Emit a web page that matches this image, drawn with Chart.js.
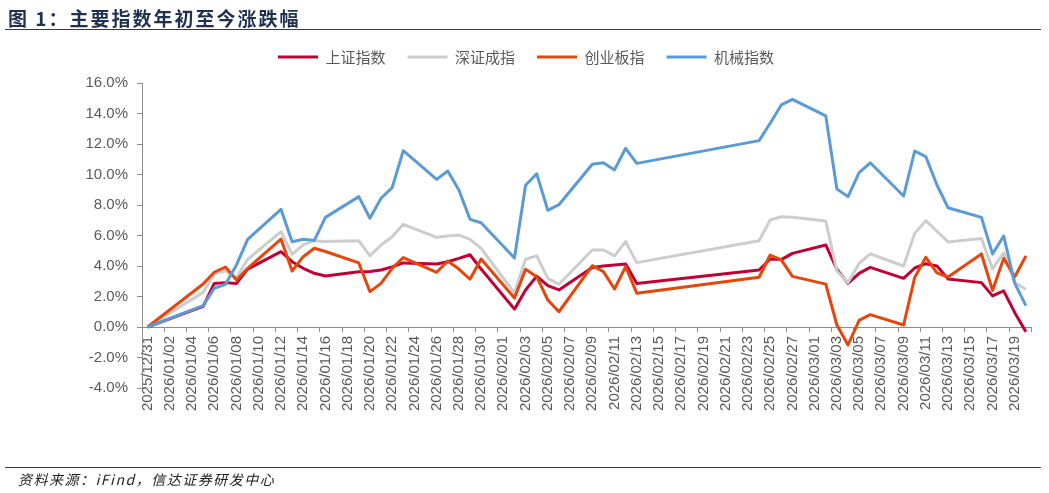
<!DOCTYPE html>
<html>
<head>
<meta charset="utf-8">
<script src="https://cdn.jsdelivr.net/npm/chart.js@4.4.1/dist/chart.umd.min.js"></script>
<style>
    html, body { margin: 0; padding: 0; background: #fff; }
    body { width: 1049px; height: 493px; position: relative; overflow: hidden; }
    #wrap { position: absolute; left: 0; top: 0; width: 1049px; height: 493px; }
    #title {
        position: absolute; left: 8px; top: 4px; line-height: 24px;
        font: bold 19px "Noto Sans CJK SC", sans-serif; color: #1f3050; letter-spacing: 2px;
    }
    .rule { position: absolute; left: 5px; width: 1036px; height: 1px; background: #3a3a3a; }
    #footer {
        position: absolute; left: 18px; top: 469px; line-height: 20px;
        font: italic 14px "Noto Sans CJK SC", serif; color: #222; letter-spacing: 1.5px;
    }
</style>
</head>
<body>
<div id="wrap"><canvas id="mainChart"></canvas></div>
<div id="title">图 1：主要指数年初至今涨跌幅</div>
<div class="rule" style="top:29px"></div>
<div class="rule" style="top:467px"></div>
<div id="footer">资料来源：iFind，信达证券研发中心</div>
<script>
// trading days shown in the chart
const tradeDays = [
    '2025/12/31',
    '2026/01/05', '2026/01/06', '2026/01/07', '2026/01/08', '2026/01/09',
    '2026/01/12', '2026/01/13', '2026/01/14', '2026/01/15', '2026/01/16',
    '2026/01/19', '2026/01/20', '2026/01/21', '2026/01/22', '2026/01/23',
    '2026/01/26', '2026/01/27', '2026/01/28', '2026/01/29', '2026/01/30',
    '2026/02/02', '2026/02/03', '2026/02/04', '2026/02/05', '2026/02/06',
    '2026/02/09', '2026/02/10', '2026/02/11', '2026/02/12', '2026/02/13',
    '2026/02/24', '2026/02/25', '2026/02/26', '2026/02/27',
    '2026/03/02', '2026/03/03', '2026/03/04', '2026/03/05', '2026/03/06',
    '2026/03/09', '2026/03/10', '2026/03/11', '2026/03/12', '2026/03/13',
    '2026/03/16', '2026/03/17', '2026/03/18', '2026/03/19', '2026/03/20'
];

const seriesNames = ['上证指数', '深证成指', '创业板指', '机械指数'];
const seriesColors = ['#c00034', '#cdcdcd', '#e5460c', '#5b9bd5'];

// cumulative change since 2025/12/31, in %
const shIndex = [0, 1.35, 2.86, 2.91, 2.86, 3.80, 4.94, 4.28, 3.85, 3.52, 3.34, 3.63, 3.64, 3.74, 3.94, 4.20,
    4.13, 4.28, 4.50, 4.74, 3.80, 1.17, 2.43, 3.34, 2.71, 2.43, 3.90, 4.00, 4.07, 4.13, 2.86,
    3.74, 4.46, 4.42, 4.83, 5.38, 3.78, 2.86, 3.52, 3.91, 3.19, 3.87, 4.15, 4.00, 3.15,
    2.91, 2.04, 2.37, 0.94, -0.31];
const szIndex = [0, 2.27, 3.48, 3.69, 3.23, 4.44, 6.25, 4.77, 5.38, 5.66, 5.60, 5.66, 4.66, 5.38, 5.92, 6.73,
    5.88, 5.97, 6.03, 5.75, 5.15, 2.23, 4.44, 4.66, 3.19, 2.80, 5.05, 5.05, 4.66, 5.60, 4.22,
    5.66, 7.02, 7.23, 7.19, 6.95, 3.67, 2.91, 4.17, 4.79, 4.00, 6.14, 6.97, 6.28, 5.58,
    5.80, 3.82, 4.87, 2.90, 2.47];
const cybIndex = [0, 2.82, 3.59, 3.93, 3.08, 3.85, 5.77, 3.67, 4.61, 5.16, 4.95, 4.20, 2.32, 2.86, 3.85, 4.55,
    3.59, 4.33, 3.80, 3.13, 4.46, 1.90, 3.78, 3.30, 1.77, 1.00, 4.02, 3.63, 2.49, 3.96, 2.21,
    3.26, 4.72, 4.40, 3.32, 2.81, 0.13, -1.18, 0.43, 0.81, 0.13, 3.25, 4.57, 3.55, 3.28,
    4.79, 2.40, 4.50, 3.30, 4.66];
const machIndex = [0, 1.40, 2.54, 2.80, 4.07, 5.75, 7.72, 5.59, 5.75, 5.68, 7.19, 8.55, 7.13, 8.44, 9.14, 11.56,
    9.68, 10.23, 8.98, 7.06, 6.84, 4.52, 9.29, 10.05, 7.65, 8.02, 10.67, 10.77, 10.30, 11.72, 10.73,
    12.22, 13.36, 14.56, 14.93, 13.84, 9.05, 8.55, 10.12, 10.77, 8.59, 11.54, 11.17, 9.31, 7.82,
    7.19, 4.79, 5.97, 2.86, 1.40];

const yMin = -4;
const yMax = 16;
const yStep = 2;

// every calendar day between first and last trading day (the axis is a date axis)
function buildCalendar(first, last) {
    const toUTC = s => {
        const p = s.split('/').map(Number);
        return Date.UTC(p[0], p[1] - 1, p[2]);
    };
    const pad = n => (n < 10 ? '0' : '') + n;
    const days = [];
    for (let t = toUTC(first); t <= toUTC(last); t += 86400000) {
        const d = new Date(t);
        days.push(d.getUTCFullYear() + '/' + pad(d.getUTCMonth() + 1) + '/' + pad(d.getUTCDate()));
    }
    return days;
}

const calendarDays = buildCalendar(tradeDays[0], tradeDays[tradeDays.length - 1]);

function toPoints(values) {
    return values.map((v, i) => ({ x: tradeDays[i], y: v }));
}

const allSeries = [shIndex, szIndex, cybIndex, machIndex];

const datasets = allSeries.map((values, i) => ({
    label: seriesNames[i],
    data: toPoints(values),
    borderColor: seriesColors[i],
    backgroundColor: seriesColors[i],
    borderWidth: 3,
    pointRadius: 0,
    tension: 0,
    borderJoinStyle: 'round',
    order: allSeries.length - i   // later series drawn on top
}));

const axisColor = '#8c8c8c';
const labelColor = '#595959';

Chart.defaults.font.family = '"Liberation Sans", Arial, sans-serif';

new Chart(document.getElementById('mainChart'), {
    type: 'line',
    data: { labels: calendarDays, datasets: datasets },
    options: {
        responsive: true,
        maintainAspectRatio: false,
        animation: false,
        layout: { padding: { left: 20, right: 17, top: 27.5, bottom: 105 } },
        plugins: {
            legend: {
                position: 'top',
                weight: 3000,
                labels: {
                    boxWidth: 40,
                    boxHeight: 3,
                    padding: 22,
                    color: labelColor,
                    font: { family: '"Noto Sans CJK SC", sans-serif', size: 15 },
                    sort: (a, b) => a.datasetIndex - b.datasetIndex,
                    generateLabels: chart => Chart.defaults.plugins.legend.labels.generateLabels(chart)
                        .map(item => Object.assign(item, { lineWidth: 0, fillStyle: item.strokeStyle }))
                }
            },
            // empty title used only as a gap under the legend
            title: { display: true, text: '', padding: 0, font: { size: 8.5, lineHeight: 1 } },
            tooltip: { enabled: false }
        },
        scales: {
            x: {
                type: 'category',
                position: { y: 0 },
                offset: true,
                afterFit: scale => { scale.height = 0; },
                grid: {
                    offset: true,
                    drawOnChartArea: false,
                    drawTicks: true,
                    tickLength: 4,
                    color: ctx => (ctx.index === undefined || ctx.index % 2 === 0) ? axisColor : 'rgba(0,0,0,0)'
                },
                border: { display: true, color: axisColor, width: 1 },
                ticks: {
                    autoSkip: false,
                    minRotation: 90,
                    maxRotation: 90,
                    padding: 5,
                    color: labelColor,
                    font: { size: 15 },
                    callback: function (value, index) {
                        return index % 2 === 0 ? this.getLabelForValue(value) : '';
                    }
                }
            },
            y: {
                min: yMin,
                max: yMax,
                afterFit: scale => { scale.width = 122; },
                grid: { drawOnChartArea: false, drawTicks: true, tickLength: 5, color: axisColor },
                border: { display: true, color: axisColor, width: 1 },
                ticks: {
                    stepSize: yStep,
                    padding: 9,
                    color: labelColor,
                    font: { size: 15 },
                    callback: v => v.toFixed(1) + '%'
                }
            }
        }
    }
});
</script>
</body>
</html>
